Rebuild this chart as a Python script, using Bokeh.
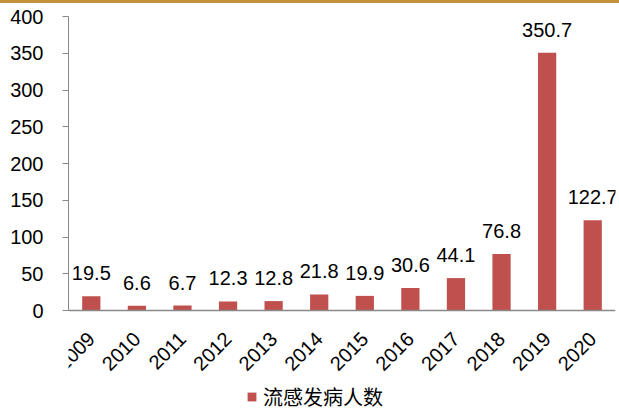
import math
from bokeh.plotting import figure
from bokeh.models import (ColumnDataSource, LabelSet, Legend, LegendItem,
                          FactorRange, Range1d, FixedTicker)
from bokeh.core.properties import value
from bokeh.embed import file_html
from bokeh.resources import INLINE

years = ["2009", "2010", "2011", "2012", "2013", "2014", "2015", "2016",
         "2017", "2018", "2019", "2020"]
cases = [19.5, 6.6, 6.7, 12.3, 12.8, 21.8, 19.9, 30.6, 44.1, 76.8, 350.7, 122.7]
value_labels = ["19.5", "6.6", "6.7", "12.3", "12.8", "21.8", "19.9", "30.6",
                "44.1", "76.8", "350.7", "122.7"]
series_name = "流感发病人数"
y_ticks = [0, 50, 100, 150, 200, 250, 300, 350, 400]
y_max = 400

BAR = "#C0504D"
AXIS = "#898989"
FONT = "Liberation Sans"
W = 619
H = 404
TOP = 13          # px above the 400 line
PLOT_PX = 294     # px between 0 and 400
BELOW_PX = H - TOP - PLOT_PX  # room under the zero line for labels + legend

src = ColumnDataSource(dict(year=years, cases=cases, lab=value_labels))

p = figure(width=W, height=H, x_range=FactorRange(*years, range_padding=0),
           y_range=Range1d(-y_max * BELOW_PX / PLOT_PX, y_max),
           output_backend="svg", toolbar_location=None,
           min_border_top=TOP, min_border_right=4, min_border_left=68,
           min_border_bottom=0,
           styles={"border-top": "3px solid #C4913D"})

r = p.vbar(x="year", top="cases", width=0.4, source=src,
           fill_color=BAR, line_color=None)

labels = LabelSet(x="year", y="cases", text="lab", source=src, y_offset=16,
                  text_align="center", text_baseline="alphabetic",
                  text_font=value(FONT), text_font_size="20px", text_color="black")
p.add_layout(labels)

p.xgrid.visible = False
p.ygrid.visible = False
p.outline_line_color = None
p.background_fill_color = "white"
p.border_fill_color = "white"

ya = p.yaxis[0]
ya.ticker = FixedTicker(ticks=y_ticks)
ya.bounds = (0, y_max)
ya.axis_line_color = AXIS
ya.major_tick_line_color = AXIS
ya.major_tick_out = 6
ya.major_tick_in = 0
ya.minor_tick_line_color = None
ya.major_label_standoff = 19
ya.major_label_text_font = FONT
ya.major_label_text_font_size = "20px"
ya.major_label_text_color = "black"

xa = p.xaxis[0]
xa.fixed_location = 0
xa.axis_line_color = AXIS
xa.axis_line_width = 1.5
xa.major_tick_line_color = None
xa.major_tick_out = 0
xa.major_tick_in = 0
xa.minor_tick_line_color = None
xa.major_label_orientation = math.pi / 4
xa.major_label_standoff = 25
xa.major_label_text_font = FONT
xa.major_label_text_font_size = "20px"
xa.major_label_text_color = "black"

legend = Legend(items=[LegendItem(label=series_name, renderers=[r])],
                orientation="horizontal", location=(178, -4),
                label_text_font="Noto Sans CJK SC", label_text_font_size="20px",
                label_text_color="black",
                glyph_width=11, glyph_height=11, label_standoff=6,
                label_height=20,
                border_line_color=None, background_fill_alpha=0,
                padding=0, margin=0, spacing=0)
p.add_layout(legend, "center")

open("out.html", "w").write(file_html(p, INLINE))
